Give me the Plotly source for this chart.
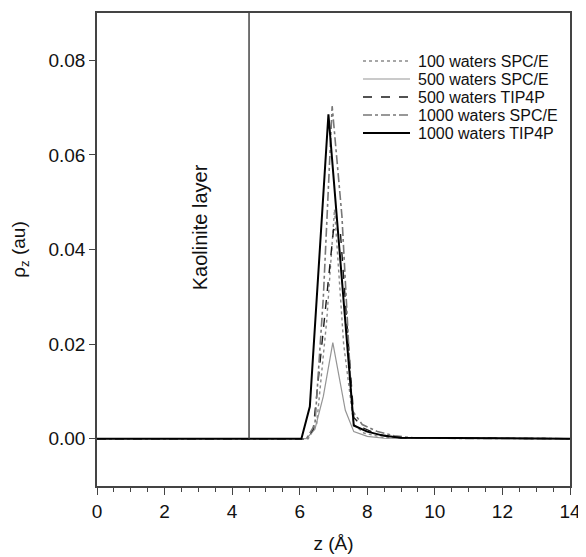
import plotly.graph_objects as go

# ---- data ----
z_100_spce = [0, 6.25, 6.5, 6.8, 7.03, 7.3, 7.6, 7.9, 8.5, 14]
rho_100_spce = [0, 0, 0.003, 0.025, 0.0485, 0.02, 0.003, 0.0012, 0.0002, 0]

z_500_spce = [0, 6.2, 6.45, 6.7, 6.98, 7.35, 7.6, 8.0, 8.5, 14]
rho_500_spce = [0, 0, 0.002, 0.009, 0.0203, 0.006, 0.0015, 0.0005, 0.0001, 0]

z_500_tip4p = [0, 6.2, 6.4, 7.0, 7.2, 7.6, 7.9, 8.3, 9.0, 14]
rho_500_tip4p = [0, 0, 0.002, 0.0442, 0.0440, 0.0045, 0.0022, 0.0009, 0.0002, 0]

z_1000_spce = [0, 6.2, 6.45, 6.7, 6.96, 7.25, 7.55, 7.85, 8.3, 8.8, 9.5, 14]
rho_1000_spce = [0, 0, 0.003, 0.03, 0.0703, 0.047, 0.006, 0.003, 0.0015, 0.0006, 0.0001, 0]

z_1000_tip4p = [0, 6.05, 6.3, 6.85, 7.6, 8.0, 8.5, 9.0, 14]
rho_1000_tip4p = [0, 0, 0.0068, 0.0686, 0.0028, 0.0015, 0.0006, 0.0002, 0]

series_names = ["100 waters SPC/E", "500 waters SPC/E", "500 waters TIP4P",
                "1000 waters SPC/E", "1000 waters TIP4P"]

kaolinite_edge = 4.5
kaolinite_label = "Kaolinite layer"

x_range = [0, 14]
y_range = [-0.01, 0.09]

FONT = "Liberation Sans, Arial, sans-serif"

# page body has an 8px margin; plot area in the screenshot spans x 97..570, y 13..486
OFF = 8
W, H = 586, 557
PL, PR, PT, PB = 97 - OFF, 570 - OFF, 13 - OFF, 486 - OFF
ml, mt = PL, PT
mr, mb = W - PR, H - PB
pw, ph = PR - PL, PB - PT


def px_to_paper(x, y):
    return (x - 97) / pw, (486 - y) / ph


fig = go.Figure()
styles = [
    dict(color="#8a8a8a", width=1.4, dash="dot"),
    dict(color="#959595", width=1.2, dash="solid"),
    dict(color="#1a1a1a", width=1.4, dash="dash"),
    dict(color="#777777", width=1.6, dash="dashdot"),
    dict(color="#000000", width=2.0, dash="solid"),
]
data = [(z_100_spce, rho_100_spce), (z_500_spce, rho_500_spce),
        (z_500_tip4p, rho_500_tip4p), (z_1000_spce, rho_1000_spce),
        (z_1000_tip4p, rho_1000_tip4p)]
for (zz, rr), name, st in zip(data, series_names, styles):
    fig.add_trace(go.Scatter(x=zz, y=rr, mode="lines", name=name, line=st, showlegend=False))

# manual legend (line sample + label)
for i, (name, st) in enumerate(zip(series_names, styles)):
    yy = 61 + 18 * i
    x0, y0 = px_to_paper(363, yy)
    x1, _ = px_to_paper(410, yy)
    xt, _ = px_to_paper(416, yy)
    fig.add_shape(type="line", xref="paper", yref="paper", x0=x0, x1=x1, y0=y0, y1=y0,
                  line=st)
    fig.add_annotation(xref="paper", yref="paper", x=xt, y=y0, text=name, showarrow=False,
                       xanchor="left", yanchor="middle",
                       font=dict(family=FONT, size=16, color="#111"))

fig.add_shape(type="line", x0=kaolinite_edge, x1=kaolinite_edge, y0=0, y1=y_range[1],
              xref="x", yref="y", line=dict(color="#444444", width=1.5))

fig.add_annotation(x=3.05, y=0.0447, text=kaolinite_label,
                   textangle=-90, showarrow=False, xref="x", yref="y",
                   font=dict(family=FONT, size=20, color="#111"))

fig.update_layout(
    width=W, height=H,
    margin=dict(l=ml, r=mr, t=mt, b=mb, autoexpand=False),
    paper_bgcolor="white", plot_bgcolor="white",
    font=dict(family=FONT, size=19, color="#111"),
    showlegend=False,
)
fig.update_xaxes(range=x_range, dtick=2, tick0=0, showgrid=False, zeroline=False,
                 showline=True, linecolor="#444", linewidth=1.5, mirror=True,
                 ticks="outside", ticklen=7, tickcolor="#444", tickwidth=1.2,
                 minor=dict(dtick=0.5, ticks="outside", ticklen=4, tickcolor="#444", showgrid=False),
                 automargin=False, tickfont=dict(size=19),
                 title=dict(text="z (Å)", font=dict(family=FONT, size=19), standoff=16))
fig.update_yaxes(range=y_range, tickvals=[0, 0.02, 0.04, 0.06, 0.08], tickformat=".2f",
                 showgrid=False, zeroline=False,
                 showline=True, linecolor="#444", linewidth=1.5, mirror=True,
                 ticks="outside", ticklen=6, tickcolor="#444", tickwidth=1.2,
                 automargin=False, tickfont=dict(size=19),
                 title=dict(text="ρ<sub>z</sub> (au)", font=dict(family=FONT, size=19), standoff=20))

fig.write_html("out.html")
